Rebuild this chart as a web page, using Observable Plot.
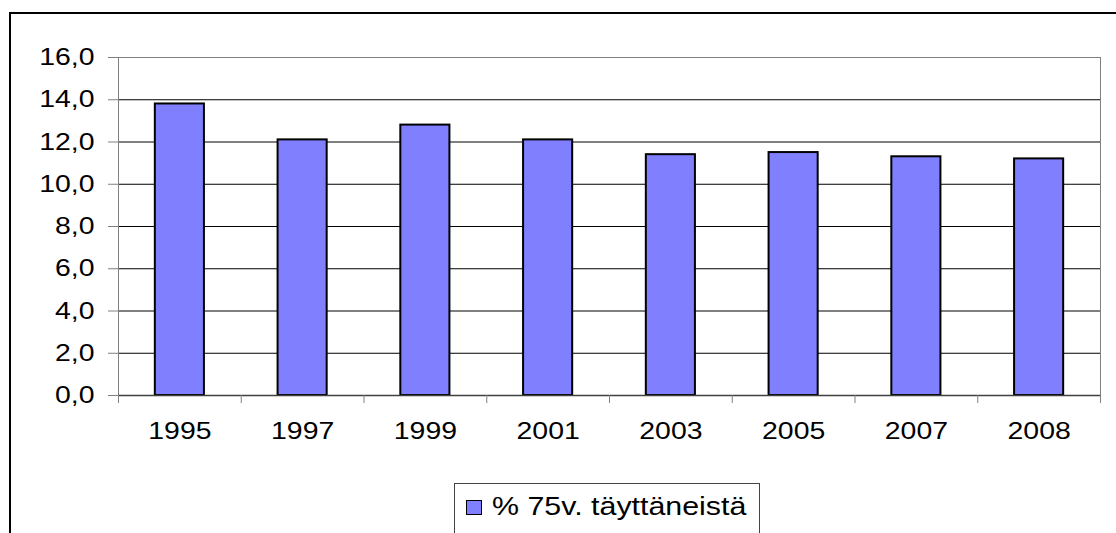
<!DOCTYPE html>
<html>
<head>
<meta charset="utf-8">
<script src="https://cdn.jsdelivr.net/npm/d3@7"></script>
<script src="https://cdn.jsdelivr.net/npm/@observablehq/plot@0.6"></script>
<style>
  body { margin: 0; background: #fff; }
  #wrap { position: relative; width: 1116px; height: 533px; overflow: hidden; background: #fff;
          font-family: "Liberation Sans", Arial, sans-serif; }
  #frame { position: absolute; left: 9px; top: 12px; width: 1300px; height: 700px; border: 2px solid #000; box-sizing: border-box; }
  #chart { position: absolute; left: 0; top: 0; }
  #legend { position: absolute; left: 454px; top: 483px; width: 306px; height: 80px; border: 1px solid #444;
            background: #fff; box-sizing: border-box; }
  #legend .sw { position: absolute; left: 11px; top: 16px; width: 16px; height: 15px; background: #8080ff;
                border: 1.5px solid #000; box-sizing: border-box; }
  #legend .lt { position: absolute; left: 37px; top: 10px; font-size: 25px; line-height: 25px; white-space: nowrap;
                color: #000; transform: scaleX(1.215); transform-origin: left center; }
</style>
</head>
<body>
<div id="wrap">
  <div id="frame"></div>
  <div id="chart"></div>
  <div id="legend"><span class="sw"></span><span class="lt"></span></div>
</div>
<script>
const years = ["1995", "1997", "1999", "2001", "2003", "2005", "2007", "2008"];
const values = [13.8, 12.1, 12.8, 12.1, 11.4, 11.5, 11.3, 11.2];
const yTicks = [0, 2, 4, 6, 8, 10, 12, 14, 16];
const legendLabel = "% 75v. täyttäneistä";

const data = years.map((year, i) => ({i, year, value: values[i]}));

const W = 1116, H = 533, ML = 118, MR = 16, MT = 57, MB = 138;
const step = (W - ML - MR) / years.length;
const stretch = 1.21;

const chart = Plot.plot({
  width: W, height: H,
  marginLeft: ML, marginRight: MR, marginTop: MT, marginBottom: MB,
  style: {fontFamily: '"Liberation Sans", Arial, sans-serif', fontSize: "23.5px", color: "#000",
          background: "transparent", overflow: "visible"},
  x: {type: "linear", domain: [0, years.length]},
  y: {domain: [0, 16]},
  marks: [
    Plot.gridY(yTicks.filter(t => t > 0 && t < 16), {stroke: "#000", strokeOpacity: 1}),
    Plot.frame({stroke: "#808080"}),
    Plot.rect(data, {x1: "i", x2: d => d.i + 1, y1: 0, y2: "value",
      insetLeft: step * 0.3, insetRight: step * 0.3,
      fill: "#8080ff", stroke: "#000", strokeWidth: 2}),
    Plot.ruleY([0], {stroke: "#404040", strokeWidth: 1.5}),
    Plot.axisY(yTicks, {tickSize: 10, tickPadding: 14, stroke: "#808080", fill: "#000",
      tickFormat: d => d.toFixed(1).replace(".", ","), label: null, fontSize: 23.5}),
    Plot.axisX(d3.range(years.length + 1), {tickSize: 8, stroke: "#808080", tickFormat: () => "", label: null}),
    Plot.axisX(years.map((y, i) => i + 0.5), {tickSize: 0, tickPadding: 27,
      tickFormat: d => years[Math.floor(d)], label: null, fill: "#000", fontSize: 23.5})
  ]
});

document.getElementById("chart").appendChild(chart);

// Horizontally stretch tick labels around their anchor (the reference is widened)
d3.select(chart).selectAll('g[aria-label$="tick label"] text').each(function() {
  const txt = this;
  const anchor = txt.getAttribute("text-anchor") || getComputedStyle(txt).textAnchor ||
                 txt.parentNode.getAttribute("text-anchor") || "middle";
  const g = document.createElementNS("http://www.w3.org/2000/svg", "g");
  txt.parentNode.insertBefore(g, txt);
  g.appendChild(txt);
  const b = g.getBBox();
  const ax = anchor === "end" ? b.x + b.width : anchor === "start" ? b.x : b.x + b.width / 2;
  g.setAttribute("transform", `translate(${ax},0) scale(${stretch},1) translate(${-ax},0)`);
});

document.querySelector("#legend .lt").textContent = legendLabel;
</script>
</body>
</html>
